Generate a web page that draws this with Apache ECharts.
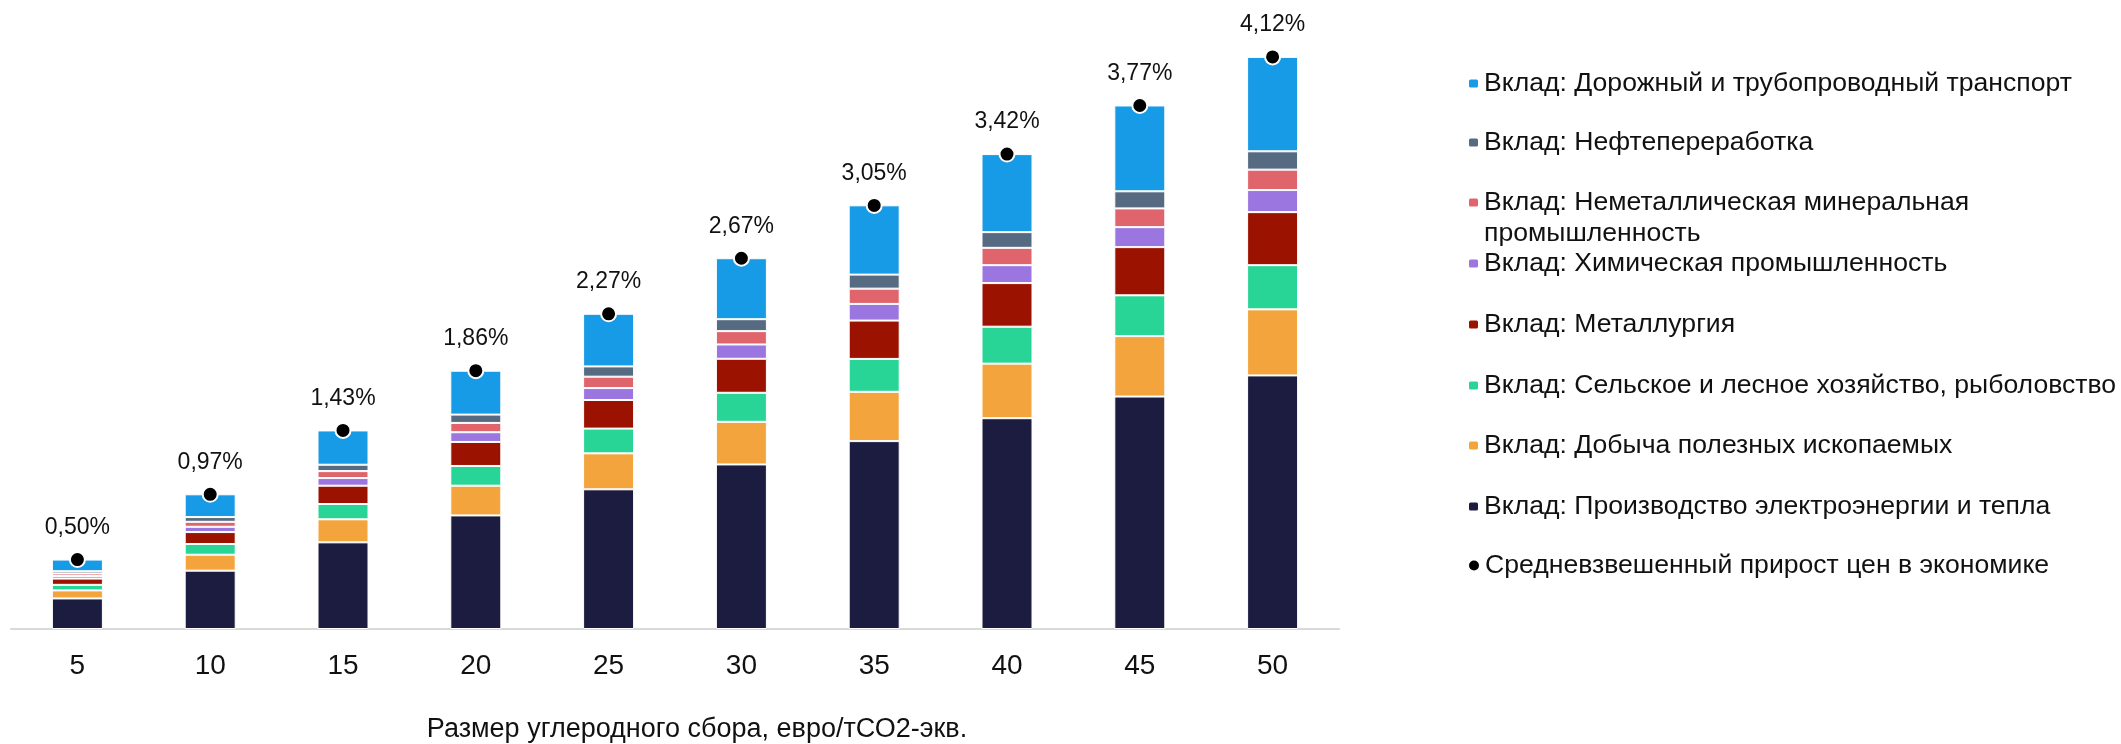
<!DOCTYPE html>
<html>
<head>
<meta charset="utf-8">
<title>Вклад отраслей в прирост цен</title>
<script src="https://cdn.jsdelivr.net/npm/echarts@6/dist/echarts.min.js"></script>
<style>
    html, body { margin: 0; padding: 0; background: #fff; }
    #barChart { width: 2121px; height: 744px; }
</style>
</head>
<body>
<div id="barChart"></div>
<script>
// 横坐标：углеродный сбор, евро/тСО2-экв.
const categories = ['5', '10', '15', '20', '25', '30', '35', '40', '45', '50'];

// вклады отраслей (п.п.), снизу вверх
const powerHeat = [0.22, 0.42, 0.624, 0.818, 1.006, 1.185, 1.353, 1.518, 1.674, 1.826];
const mining = [0.058, 0.115, 0.166, 0.214, 0.259, 0.307, 0.355, 0.393, 0.435, 0.476];
const agriculture = [0.04, 0.077, 0.11, 0.142, 0.178, 0.209, 0.237, 0.266, 0.294, 0.318];
const metallurgy = [0.045, 0.086, 0.132, 0.173, 0.206, 0.245, 0.276, 0.314, 0.347, 0.382];
const chemical = [0.019, 0.038, 0.055, 0.070, 0.086, 0.103, 0.120, 0.129, 0.144, 0.159];
const nonMetal = [0.018, 0.036, 0.05, 0.067, 0.082, 0.096, 0.110, 0.125, 0.135, 0.147];
const refining = [0.016, 0.034, 0.046, 0.060, 0.074, 0.086, 0.101, 0.113, 0.123, 0.132];
const transport = [0.084, 0.164, 0.247, 0.316, 0.379, 0.439, 0.499, 0.562, 0.618, 0.680];

// средневзвешенный прирост цен, %
const avgGrowth = [0.50, 0.97, 1.43, 1.86, 2.27, 2.67, 3.05, 3.42, 3.77, 4.12];

const FONT = "'Liberation Sans', Arial, sans-serif";

// 堆叠柱子，从下到上
const stackList = [
    { name: 'Вклад: Производство электроэнергии и тепла', color: '#1c1c40', data: powerHeat },
    { name: 'Вклад: Добыча полезных ископаемых', color: '#f4a43c', data: mining },
    { name: 'Вклад: Сельское и лесное хозяйство, рыболовство', color: '#28d496', data: agriculture },
    { name: 'Вклад: Металлургия', color: '#9c1200', data: metallurgy },
    { name: 'Вклад: Химическая промышленность', color: '#9b76e0', data: chemical },
    { name: 'Вклад: Неметаллическая минеральная промышленность', color: '#e0646c', data: nonMetal },
    { name: 'Вклад: Нефтепереработка', color: '#566a82', data: refining },
    { name: 'Вклад: Дорожный и трубопроводный транспорт', color: '#189be6', data: transport }
];
const avgName = 'Средневзвешенный прирост цен в экономике';

let seriesArr = stackList.map(item => ({
    name: item.name,
    type: 'bar',
    stack: 'total',
    barWidth: 51,
    itemStyle: {
        color: item.color,
        borderColor: '#fff',
        borderWidth: 1
    },
    data: item.data
}));

seriesArr.push({
    name: avgName,
    type: 'line',
    symbol: 'circle',
    symbolSize: 15,
    lineStyle: { width: 0, opacity: 0 },
    itemStyle: { color: '#000', borderColor: '#fff', borderWidth: 2 },
    label: {
        show: true,
        position: 'top',
        distance: 12,
        color: '#111',
        fontFamily: FONT,
        fontSize: 23,
        formatter: p => p.value.toFixed(2).replace('.', ',') + '%'
    },
    z: 5,
    data: avgGrowth
});

// легенда: по одному компоненту на строку, сверху вниз
const legendOrder = stackList.slice().reverse().map(item => item.name).concat([avgName]);
const legendCenters = [84, 143, 202, 264, 325, 386, 446, 507, 566];
let legendArr = legendOrder.map((name, i) => {
    let twoLines = name.indexOf('Неметаллическая') >= 0;
    let lg = {
        orient: 'vertical',
        left: 1467,
        top: twoLines ? legendCenters[i] - 46 : legendCenters[i] - 14,
        padding: 0,
        itemWidth: 11,
        itemHeight: 10,
        selectedMode: false,
        data: [name],
        textStyle: {
            color: '#111',
            fontFamily: FONT,
            fontSize: 26.6
        }
    };
    if (name === avgName) {
        lg.icon = 'circle';
        lg.itemWidth = 12;
        lg.itemHeight = 12;
    }
    if (twoLines) {
        // пустая строка сверху, чтобы значок стоял напротив первой строки
        lg.formatter = () => ' \nВклад: Неметаллическая минеральная\nпромышленность';
        lg.textStyle.lineHeight = 31;
    }
    return lg;
});

let chart = echarts.init(document.getElementById('barChart'));
chart.setOption({
    animation: false,
    grid: { // отступы
        left: 11,
        right: 782,
        top: 18,
        bottom: 115,
        outerBoundsMode: 'none'
    },
    legend: legendArr,
    xAxis: {
        type: 'category',
        data: categories,
        name: 'Размер углеродного сбора, евро/тСО2-экв.',
        nameLocation: 'middle',
        nameGap: 87,
        nameTextStyle: {
            color: '#111',
            fontFamily: FONT,
            fontSize: 27,
            padding: [0, 0, 0, 44]
        },
        axisLine: { lineStyle: { color: '#d9d9d9', width: 2 } },
        axisTick: { show: false },
        axisLabel: {
            margin: 23,
            color: '#111',
            fontFamily: FONT,
            fontSize: 28
        }
    },
    yAxis: {
        type: 'value',
        min: 0,
        max: 4.4,
        show: false,
        splitLine: { show: false }
    },
    series: seriesArr
});
window.onresize = chart.resize;
</script>
</body>
</html>
